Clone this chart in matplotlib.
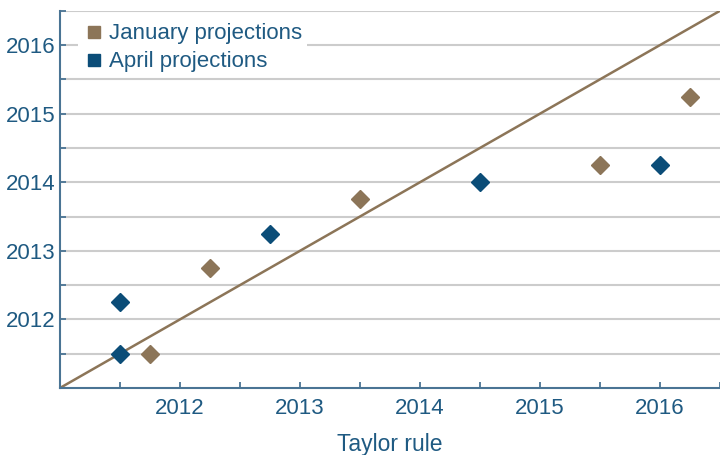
import matplotlib.pyplot as plt
from matplotlib.lines import Line2D

plt.rcParams['font.family'] = ['Liberation Sans', 'DejaVu Sans']

# data
jan_x = [2011.75, 2012.25, 2013.5, 2015.5, 2016.25]
jan_y = [2011.5, 2012.75, 2013.75, 2014.25, 2015.25]
apr_x = [2011.5, 2011.5, 2012.75, 2014.5, 2016.0]
apr_y = [2012.25, 2011.5, 2013.25, 2014.0, 2014.25]
years = [2012, 2013, 2014, 2015, 2016]

brown = '#8C7558'
blue = '#0B4D78'
txt = '#1F5A82'
spine = '#4A7494'

fig = plt.figure(figsize=(7.2, 4.55), dpi=100)
ax = fig.add_axes([0.0833, 0.1473, 0.9167, 0.829])

ax.set_xlim(2011, 2016.46)
ax.set_ylim(2011, 2016.5)

# 45 degree line
ax.plot([2011, 2016.6], [2011, 2016.6], color=brown, lw=1.8, zorder=2)

ax.plot(jan_x, jan_y, 'D', color=brown, ms=9, zorder=3)
ax.plot(apr_x, apr_y, 'D', color=blue, ms=9, zorder=3)

ax.set_xticks(years)
ax.set_xticks([y - 0.5 for y in years] + [2016.5], minor=True)
ax.set_yticks(years)
ax.set_yticks([y - 0.5 for y in years] + [2016.5], minor=True)

ax.grid(axis='y', which='both', color='#cccccc', lw=1.5, zorder=0)
ax.set_axisbelow(True)

for s in ['top', 'right']:
    ax.spines[s].set_visible(False)
for s in ['left', 'bottom']:
    ax.spines[s].set_color(spine)
    ax.spines[s].set_linewidth(1.5)

ax.tick_params(which='both', direction='in', length=4.5, width=1.3, color=spine,
               labelcolor=txt, labelsize=16)
ax.tick_params(axis='x', pad=7)
ax.tick_params(axis='y', pad=3)

ax.set_xlabel('Taylor rule', color=txt, fontsize=16.5, labelpad=10)

handles = [Line2D([], [], marker='s', color=brown, ls='none', ms=9),
           Line2D([], [], marker='s', color=blue, ls='none', ms=9)]
leg = ax.legend(handles, ['January projections', 'April projections'],
                loc='upper left', bbox_to_anchor=(0.011, 1.008), fontsize=16,
                frameon=True, fancybox=False, handletextpad=0.2,
                handlelength=1.0, borderpad=0.2, labelspacing=0.32)
leg.get_frame().set_edgecolor('none')
leg.get_frame().set_facecolor('white')
leg.get_frame().set_alpha(1)
for t in leg.get_texts():
    t.set_color(txt)

fig.savefig('out.png', dpi=100)
